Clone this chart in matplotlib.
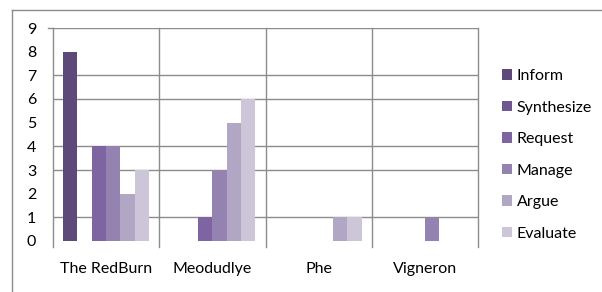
import matplotlib
matplotlib.use("Agg")
import matplotlib.pyplot as plt
from matplotlib.lines import Line2D
from matplotlib.patches import Patch

plt.rcParams['font.family'] = ['Lato', 'DejaVu Sans']

groups = ["The RedBurn", "Meodudlye", "Phe", "Vigneron"]
series = ["Inform", "Synthesize", "Request", "Manage", "Argue", "Evaluate"]
colors = ["#5e4a78", "#6e5891", "#7e64a0", "#9482b0", "#b1a7c5", "#cdc6d9"]

inform = [8, 0, 0, 0]
synthesize = [0, 0, 0, 0]
request = [4, 1, 0, 0]
manage = [4, 3, 0, 1]
argue = [2, 5, 1, 0]
evaluate = [3, 6, 1, 0]
values = [inform, synthesize, request, manage, argue, evaluate]

yticks = [0, 1, 2, 3, 4, 5, 6, 7, 8, 9]
grid_levels = [1, 3, 4, 6, 7, 9]

W, H = 602, 292
fig = plt.figure(figsize=(W / 100, H / 100), dpi=100)
ax = fig.add_axes([53 / W, (H - 241) / H, (478 - 53) / W, (241 - 28) / H])

# outer chart frame (cut off at right and bottom)
fig.add_artist(Line2D([12 / W, 12 / W], [0, (H - 10) / H], color="#8c8c8c", lw=1))
fig.add_artist(Line2D([12 / W, 1], [(H - 10) / H, (H - 10) / H], color="#8c8c8c", lw=1))

bw = 14.3 / 106
pad = 10 / 106
for k, (name, vals, c) in enumerate(zip(series, values, colors)):
    xs = [i - 0.5 + pad + bw * (k + 0.5) for i in range(len(groups))]
    ax.bar(xs, vals, width=bw, color=c, zorder=3, label=name)

for g in grid_levels:
    ax.axhline(g, color="#8c8c8c", lw=1, zorder=1)
ax.plot([-0.55, -0.5], [9, 9], color="#8c8c8c", lw=1, clip_on=False)
for b in range(len(groups) + 1):
    ax.plot([b - 0.5, b - 0.5], [-0.27, 9], color="#8c8c8c", lw=1, zorder=1, clip_on=False)

ax.set_xlim(-0.5, len(groups) - 0.5)
ax.set_ylim(0, 9)
ax.set_yticks(yticks)
ax.set_xticks(range(len(groups)))
ax.set_xticklabels(groups)
ax.tick_params(axis="both", length=0, labelsize=11.5, colors="#000000")
ax.tick_params(axis="y", pad=12)
ax.tick_params(axis="x", pad=15)
for s in ax.spines.values():
    s.set_visible(False)

handles = [Patch(facecolor=c, edgecolor="none") for c in colors]
fig.legend(handles, series, loc="upper left", bbox_to_anchor=(502 / W, (H - 69) / H),
           frameon=False, fontsize=11.5, handlelength=0.62, handleheight=0.62,
           handletextpad=0.3, labelspacing=1.1, borderaxespad=0, borderpad=0)

fig.savefig("out.png", dpi=100)
